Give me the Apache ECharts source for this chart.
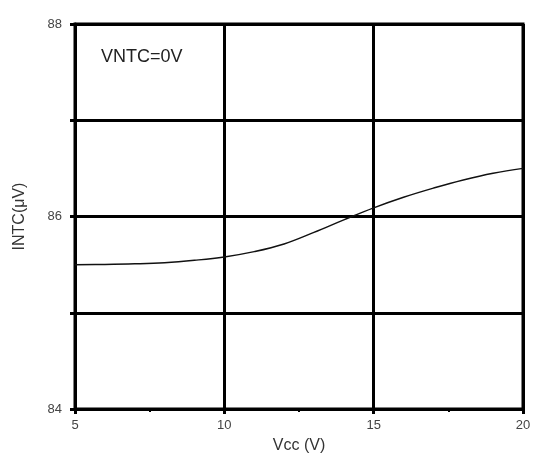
<!DOCTYPE html>
<html>
<head>
<meta charset="utf-8">
<script src="https://cdn.jsdelivr.net/npm/echarts@6/dist/echarts.min.js"></script>
<style>html,body{margin:0;padding:0;background:#fff;}#c{width:536px;height:460px;}</style>
</head>
<body>
<div id="c"></div>
<script>
var vcc = [5, 6, 7, 8, 9, 10, 11, 12, 13, 14, 15, 16, 17, 18, 19, 20];
var intc = [85.50, 85.502, 85.508, 85.52, 85.545, 85.58, 85.635, 85.715, 85.835, 85.965, 86.09, 86.20, 86.295, 86.38, 86.45, 86.50];
var yTickLabels = ['84', '86', '88'];
var xTickLabels = ['5', '10', '15', '20'];
var annotation = 'VNTC=0V';

var chart = echarts.init(document.getElementById('c'), null, {renderer: 'canvas'});
var font = 'Liberation Sans, Arial, sans-serif';
chart.setOption({
  backgroundColor: '#fff',
  animation: false,
  grid: {left: 75, right: 13, top: 24, bottom: 51, show: true, borderColor: '#000', borderWidth: 3},
  title: {text: annotation, left: 96, top: 43, textStyle: {fontSize: 18, fontWeight: 'normal', color: '#222', fontFamily: font}},
  xAxis: {
    type: 'value', min: 5, max: 20, interval: 5,
    name: 'Vcc (V)', nameLocation: 'middle', nameGap: 29,
    nameTextStyle: {fontSize: 16, color: '#333', fontFamily: font},
    axisLine: {lineStyle: {color: '#000', width: 3}},
    axisTick: {show: true, length: 5, lineStyle: {color: '#000', width: 3}},
    minorTick: {show: true, splitNumber: 2, length: 3, lineStyle: {color: '#000', width: 2}},
    axisLabel: {fontSize: 13, color: '#444', fontFamily: font, margin: 10,
      formatter: function (v) { return xTickLabels.indexOf(String(v)) >= 0 ? String(v) : ''; }},
    splitLine: {show: true, lineStyle: {color: '#000', width: 3}}
  },
  yAxis: {
    type: 'value', min: 84, max: 88, interval: 1,
    name: 'INTC(μV)', nameLocation: 'middle', nameGap: 47,
    nameTextStyle: {fontSize: 16, color: '#333', fontFamily: font},
    axisLine: {lineStyle: {color: '#000', width: 3}},
    axisTick: {show: true, length: 5, lineStyle: {color: '#000', width: 3}},
    axisLabel: {fontSize: 13, color: '#444', fontFamily: font, margin: 13,
      formatter: function (v) { return yTickLabels.indexOf(String(v)) >= 0 ? String(v) : ''; }},
    splitLine: {show: true, lineStyle: {color: '#000', width: 3}}
  },
  series: [{
    type: 'line', smooth: 0.4, symbol: 'none',
    data: vcc.map(function (x, i) { return [x, intc[i]]; }),
    lineStyle: {color: '#111', width: 1.5}
  }]
});
</script>
</body>
</html>
